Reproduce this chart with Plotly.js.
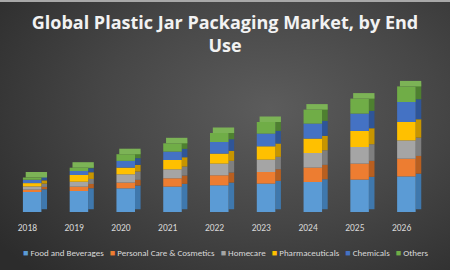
<!DOCTYPE html>
<html><head><meta charset="utf-8">
<script src="https://cdn.plot.ly/plotly-3.0.1.min.js"></script>
<style>
html,body{margin:0;padding:0;width:450px;height:270px;overflow:hidden;}
body{background:radial-gradient(ellipse 75% 85% at 60% 40%, #5c5c5c 0%, #464646 50%, #2c2c2c 100%);box-sizing:border-box;border-top:2px solid #a8a8a8;}
#chart{width:450px;height:268px;}
</style></head><body><div id="chart"></div>
<script>
const years = ['2018','2019','2020','2021','2022','2023','2024','2025','2026'];
const seriesNames = ['Food and Beverages','Personal Care & Cosmetics','Homecare','Pharmaceuticals','Chemicals','Others'];
const food      = [20.0, 21.0, 23.7, 25.4, 26.7, 28.4, 30.0, 32.4, 35.6];
const personal  = [2.3, 4.3, 5.7, 8.3, 10.0, 11.6, 14.4, 16.0, 17.7];
const homecare  = [3.3, 5.0, 8.3, 9.0, 11.7, 12.4, 14.6, 16.6, 18.3];
const pharma    = [3.3, 6.7, 6.7, 9.3, 10.0, 13.3, 14.4, 16.0, 18.4];
const chemicals = [3.3, 4.0, 6.7, 8.4, 11.6, 12.7, 15.0, 17.4, 20.0];
const others    = [2.3, 3.3, 6.7, 8.3, 9.0, 11.6, 14.0, 15.0, 15.6];
const seriesValues = [food, personal, homecare, pharma, chemicals, others];
const frontColors = ['#5b9bd5','#ed7d31','#a5a5a5','#ffc000','#4472c4','#70ad47'];
const sideColors  = ['#3f78ad','#b85f20','#7f7f7f','#c79500','#2f5597','#4e8030'];
const topColor = '#7cb356';

const DEPTH = 5.5;
const FRONT_W = 0.396, FRONT_OFF = -0.096;
const SIDE_W = 0.12, SIDE_OFF = FRONT_OFF + FRONT_W;

const traces = [];
const bases = seriesValues.map((s, i) => years.map((_, j) => {
  let b = 0; for (let k = 0; k < i; k++) b += seriesValues[k][j]; return b;
}));
const totals = years.map((_, j) => seriesValues.reduce((a, s) => a + s[j], 0));

seriesValues.forEach((vals, i) => {
  traces.push({type:'bar', x:years, y:vals, base:bases[i].map(b => b + DEPTH/2),
    width:SIDE_W, offset:SIDE_OFF, marker:{color:sideColors[i], line:{width:0}},
    hoverinfo:'skip', showlegend:false});
});
traces.push({type:'bar', x:years, y:years.map(() => DEPTH), base:totals,
  width:FRONT_W + SIDE_W/2, offset:FRONT_OFF + SIDE_W/2, marker:{color:topColor, line:{width:0}},
  hoverinfo:'skip', showlegend:false});
seriesValues.forEach((vals, i) => {
  traces.push({type:'bar', name:seriesNames[i], x:years, y:vals, base:bases[i],
    width:FRONT_W, offset:FRONT_OFF, marker:{color:frontColors[i], line:{width:0}},
    showlegend:false});
});

const legendText = seriesNames.map((n, i) =>
  `<span style="color:${frontColors[i]}">■</span> ${n}`).join('&nbsp;&nbsp;&nbsp;');

const layout = {
  width:450, height:268,
  paper_bgcolor:'rgba(0,0,0,0)', plot_bgcolor:'rgba(0,0,0,0)',
  margin:{l:4, r:25, t:58, b:58},
  barmode:'overlay',
  showlegend:false,
  title:{text:'Global Plastic Jar Packaging Market, by End<br>Use',
    font:{family:'Open Sans, sans-serif', size:18, color:'#f2f2f2', weight:'bold'},
    x:0.5, xanchor:'center', xref:'container', y:0.90, yanchor:'middle', yref:'container'},
  xaxis:{type:'category', range:[-0.5, 8.5], showgrid:false, zeroline:false, showline:false,
    ticks:'', ticklabelstandoff:8, tickfont:{family:'Carlito, Lato, sans-serif', size:9.5, color:'#d9d9d9'}},
  yaxis:{range:[0, 152], visible:false, showgrid:false, zeroline:false},
  annotations:[{text:legendText, xref:'paper', yref:'paper', x:(225-4)/421, y:0,
    xanchor:'center', yanchor:'middle', yshift:-40, showarrow:false,
    font:{family:'Carlito, Lato, sans-serif', size:9, color:'#d9d9d9'}}]
};
Plotly.newPlot('chart', traces, layout, {displayModeBar:false, staticPlot:true});
</script></body></html>
